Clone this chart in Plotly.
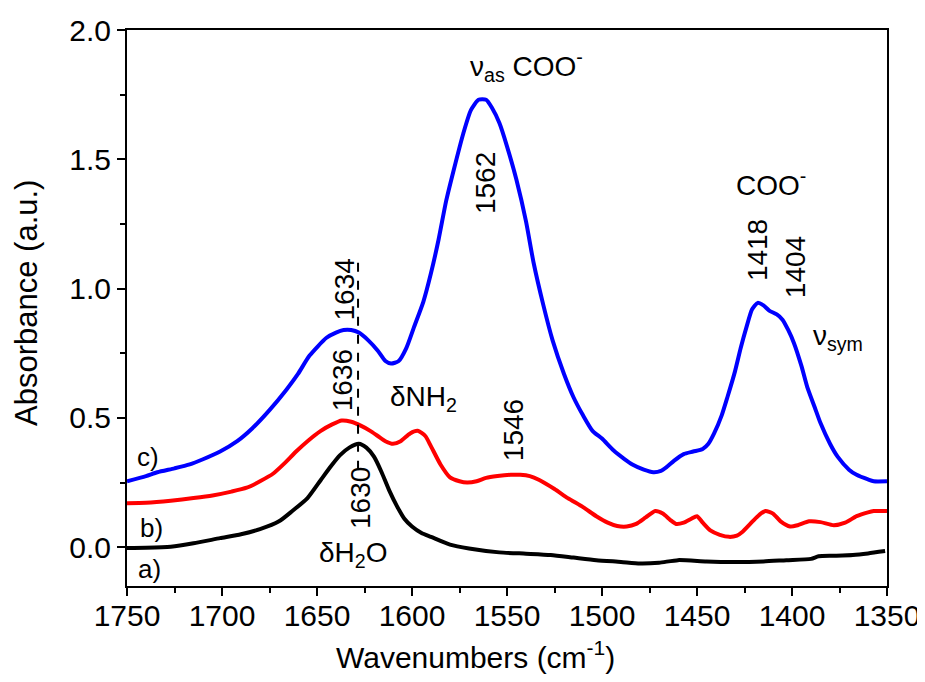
import plotly.graph_objects as go

# ---------------- data ----------------
blue_x = [1750, 1740, 1734, 1725, 1717, 1710, 1701, 1692, 1684, 1675, 1666, 1660, 1654, 1645, 1640,
          1636, 1632, 1628, 1623, 1618, 1614, 1611, 1607, 1603, 1599, 1594, 1590, 1586, 1582, 1578,
          1573, 1569, 1565, 1561, 1558, 1554, 1550, 1545, 1540, 1536, 1531, 1526, 1520, 1515, 1510,
          1505, 1500, 1494, 1488, 1484, 1478, 1473, 1469, 1466, 1462, 1457, 1452, 1447, 1444, 1441,
          1437, 1434, 1430, 1427, 1424, 1421, 1418, 1415, 1412, 1408, 1405, 1402, 1399, 1395, 1392,
          1388, 1385, 1380, 1376, 1370, 1366, 1360, 1357, 1350]
blue_y = [0.255, 0.275, 0.29, 0.305, 0.32, 0.34, 0.37, 0.41, 0.46, 0.53, 0.61, 0.67, 0.74, 0.81, 0.83,
          0.84, 0.84, 0.83, 0.80, 0.76, 0.72, 0.71, 0.72, 0.77, 0.85, 0.95, 1.06, 1.19, 1.34, 1.46,
          1.60, 1.69, 1.73, 1.73, 1.70, 1.64, 1.55, 1.42, 1.26, 1.10, 0.94, 0.80, 0.67, 0.58, 0.51,
          0.45, 0.42, 0.375, 0.34, 0.32, 0.30, 0.29, 0.295, 0.31, 0.335, 0.36, 0.37, 0.38, 0.40, 0.44,
          0.51, 0.58, 0.68, 0.77, 0.85, 0.92, 0.945, 0.935, 0.915, 0.90, 0.88, 0.84, 0.79, 0.70, 0.62,
          0.54, 0.48, 0.40, 0.35, 0.30, 0.28, 0.262, 0.255, 0.255]

red_x = [1750, 1740, 1727, 1715, 1705, 1695, 1687, 1680, 1673, 1667, 1661, 1655, 1648, 1642, 1637,
         1632, 1627, 1622, 1618, 1614, 1610, 1606, 1601, 1597, 1593, 1590, 1585, 1580, 1575, 1571,
         1566, 1561, 1555, 1548, 1543, 1538, 1533, 1525, 1518, 1510, 1503, 1497, 1492, 1487, 1482,
         1477, 1472, 1468, 1464, 1461, 1457, 1453, 1450, 1447, 1443, 1438, 1433, 1429, 1426, 1422,
         1418, 1414, 1410, 1406, 1401, 1397, 1391, 1385, 1378, 1372, 1366, 1360, 1357, 1350]
red_y = [0.17, 0.172, 0.18, 0.19, 0.20, 0.215, 0.23, 0.255, 0.285, 0.325, 0.37, 0.41, 0.45, 0.475, 0.49,
         0.485, 0.47, 0.45, 0.43, 0.41, 0.40, 0.41, 0.44, 0.45, 0.43, 0.39, 0.32, 0.27, 0.255, 0.25,
         0.255, 0.268, 0.275, 0.28, 0.28, 0.275, 0.26, 0.225, 0.19, 0.155, 0.12, 0.095, 0.082, 0.08, 0.09,
         0.115, 0.14, 0.13, 0.105, 0.09, 0.095, 0.11, 0.12, 0.095, 0.065, 0.048, 0.04, 0.045, 0.06, 0.09,
         0.12, 0.14, 0.13, 0.10, 0.08, 0.085, 0.10, 0.097, 0.085, 0.095, 0.12, 0.135, 0.14, 0.14]

black_x = [1750, 1740, 1727, 1715, 1701, 1690, 1680, 1670, 1663, 1655, 1648, 1643, 1638, 1633, 1628,
           1624, 1620, 1616, 1612, 1608, 1604, 1600, 1595, 1590, 1580, 1570, 1554, 1540, 1527, 1515,
           1503, 1490, 1480, 1470, 1460, 1445, 1431, 1415, 1403, 1390, 1386, 1378, 1368, 1360, 1351]
black_y = [-0.003, -0.002, 0.002, 0.015, 0.035, 0.05, 0.07, 0.10, 0.14, 0.19, 0.26, 0.31, 0.355, 0.385, 0.40,
           0.385, 0.35, 0.29, 0.22, 0.16, 0.11, 0.08, 0.055, 0.04, 0.01, -0.005, -0.02, -0.025, -0.03, -0.04,
           -0.05, -0.057, -0.063, -0.06, -0.05, -0.055, -0.057, -0.055, -0.05, -0.045, -0.035, -0.033, -0.03, -0.024, -0.015]

x_ticks = [1750, 1700, 1650, 1600, 1550, 1500, 1450, 1400, 1350]
y_ticks = [0.0, 0.5, 1.0, 1.5, 2.0]

FONT = "Liberation Sans, Arial, sans-serif"

fig = go.Figure()
for xs, ys, col in [(black_x, black_y, "#000000"), (red_x, red_y, "#ff0000"), (blue_x, blue_y, "#0000ff")]:
    fig.add_trace(go.Scatter(x=xs, y=ys, mode="lines",
                             line=dict(color=col, width=4, shape="spline", smoothing=0.6),
                             showlegend=False, hoverinfo="skip"))

# dashed vertical marker
fig.add_shape(type="line", x0=1628.4, x1=1628.4, y0=0.30, y1=1.10,
              line=dict(color="black", width=2, dash="dash"), layer="above")

def ann(x, y, text, size=28, angle=0):
    fig.add_annotation(x=x, y=y, text=text, showarrow=False, textangle=angle,
                       font=dict(family=FONT, size=size, color="black"),
                       xanchor="center", yanchor="middle")

ann(1635.5, 0.995, "1634", angle=-90)
ann(1636.8, 0.646, "1636", angle=-90)
ann(1627.4, 0.19, "1630", angle=-90)
ann(1631, -0.03, "δH<sub>2</sub>O")
ann(1594, 0.576, "δNH<sub>2</sub>")
ann(1546.8, 0.453, "1546", angle=-90)
ann(1561.6, 1.408, "1562", angle=-90)
ann(1540, 1.86, "ν<sub>as</sub> COO<sup>-</sup>")
ann(1411, 1.408, "COO<sup>-</sup>")
ann(1418.4, 1.149, "1418", angle=-90)
ann(1398.4, 1.083, "1404", angle=-90)
ann(1376, 0.81, "ν<sub>sym</sub>")
ann(1739, 0.35, "c)", size=26)
ann(1737, 0.073, "b)", size=26)
ann(1738, -0.085, "a)", size=26)

# axis titles
fig.add_annotation(xref="paper", yref="paper", x=0.458, y=-0.124, showarrow=False,
                   text="Wavenumbers (cm<sup>-1</sup>)", xanchor="center", yanchor="middle",
                   font=dict(family=FONT, size=30, color="black"))
fig.add_annotation(xref="paper", yref="paper", x=-0.1316, y=0.509, showarrow=False,
                   text="Absorbance (a.u.)", textangle=-90, xanchor="center", yanchor="middle",
                   font=dict(family=FONT, size=31, color="black"))

fig.update_xaxes(range=[1750, 1350], tickvals=x_ticks, ticktext=[str(v) for v in x_ticks],
                 ticks="outside", ticklen=8, tickwidth=2, tickcolor="black",
                 minor=dict(dtick=25, tick0=1350, ticks="outside", ticklen=5, tickwidth=2, tickcolor="black"),
                 showline=True, linecolor="black", linewidth=2, mirror=True,
                 showgrid=False, zeroline=False, automargin=False, ticklabelstandoff=-6,
                 ticklabeloverflow="allow",
                 tickfont=dict(family=FONT, size=30, color="black"))
fig.update_yaxes(range=[-0.15, 2.0], tickvals=y_ticks, ticktext=[f"{v:.1f}" for v in y_ticks],
                 ticks="outside", ticklen=8, tickwidth=2, tickcolor="black",
                 minor=dict(dtick=0.25, tick0=0, ticks="outside", ticklen=5, tickwidth=2, tickcolor="black"),
                 showline=True, linecolor="black", linewidth=2, mirror=True,
                 showgrid=False, zeroline=False, automargin=False, ticklabeloverflow="allow",
                 tickfont=dict(family=FONT, size=30, color="black"))

# page body adds an 8px offset; figure sized so the plot area lands at the reference position
fig.update_layout(width=917, height=674, margin=dict(l=119, r=38, t=22, b=96, autoexpand=False),
                  plot_bgcolor="white", paper_bgcolor="white",
                  font=dict(family=FONT, color="black"))

fig.write_html("out.html")
